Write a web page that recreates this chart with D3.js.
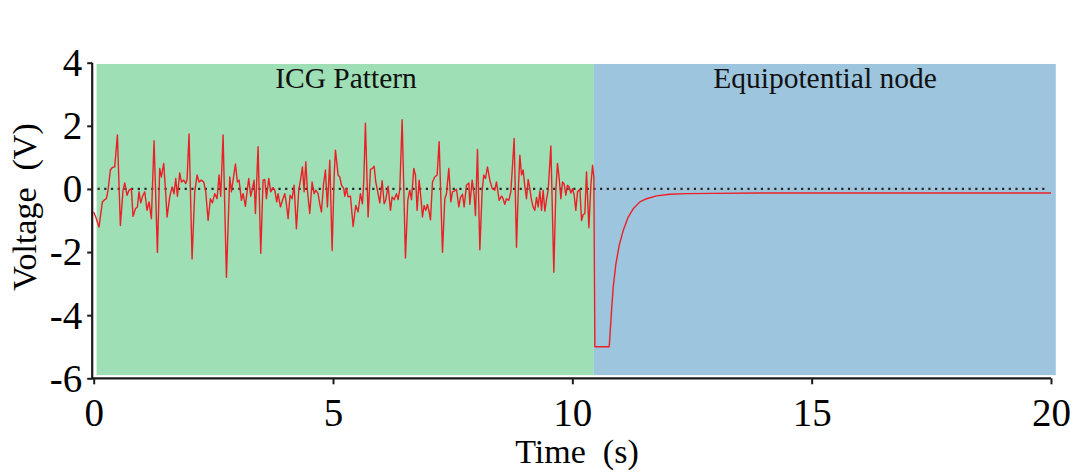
<!DOCTYPE html>
<html>
<head>
<meta charset="utf-8">
<script src="https://cdn.jsdelivr.net/npm/d3@7"></script>
<style>
  html, body { margin: 0; padding: 0; background: #ffffff; }
  svg { display: block; }
</style>
</head>
<body>
<svg id="chart" width="1076" height="476"></svg>
<script>
// ---- data ----
const time = [
  0, 0.042, 0.111, 0.181, 0.230, 0.265, 0.300, 0.348, 0.390, 0.439, 0.495, 0.557, 0.613, 0.648, 0.697, 0.738, 0.787, 0.822, 0.871, 0.913,
  0.947, 0.982, 1.017, 1.066, 1.115, 1.156, 1.205, 1.261, 1.331, 1.379, 1.414, 1.463, 1.505, 1.533, 1.588, 1.637, 1.679, 1.714, 1.749, 1.797,
  1.832, 1.881, 1.923, 1.951, 1.992, 2.055, 2.111, 2.159, 2.201, 2.250, 2.299, 2.341, 2.390, 2.438, 2.480, 2.529, 2.577, 2.619,
  2.654, 2.703, 2.773, 2.842, 2.877, 2.912, 2.961, 3.002, 3.037, 3.086, 3.121, 3.170, 3.204, 3.239, 3.281, 3.309, 3.351, 3.379, 3.434, 3.490,
  3.539, 3.574, 3.608, 3.657, 3.699, 3.748, 3.783, 3.824, 3.852, 3.901, 3.943, 3.992, 4.026, 4.061, 4.103, 4.145, 4.187, 4.235, 4.284, 4.326,
  4.361, 4.396, 4.431, 4.465, 4.514, 4.563, 4.605, 4.639, 4.688, 4.723, 4.758, 4.800, 4.841, 4.883, 4.932, 4.981, 5.023, 5.051, 5.106, 5.141,
  5.176, 5.225,
  5.246, 5.280, 5.315, 5.364, 5.420, 5.475, 5.524, 5.573, 5.615, 5.643, 5.677, 5.733, 5.782, 5.824, 5.859, 5.893, 5.928, 5.977, 6.026, 6.068,
  6.102, 6.151, 6.200, 6.235, 6.277, 6.325, 6.360, 6.395, 6.444, 6.513, 6.562, 6.604, 6.639, 6.688, 6.722, 6.757, 6.799, 6.834, 6.869, 6.903,
  6.938, 6.973, 7.008, 7.036, 7.078, 7.126, 7.175, 7.217, 7.287, 7.335, 7.370, 7.419, 7.461, 7.495, 7.544, 7.579, 7.628, 7.663, 7.705, 7.739,
  7.788, 7.837,
  7.858, 7.907, 7.949, 7.976, 8.018, 8.067, 8.116, 8.150, 8.185, 8.227, 8.276, 8.325, 8.380, 8.415, 8.471, 8.520, 8.554, 8.589, 8.624, 8.673,
  8.715, 8.750, 8.784, 8.833, 8.868, 8.903, 8.938, 8.972, 9.007, 9.042, 9.077, 9.112, 9.147, 9.181, 9.216, 9.251, 9.286, 9.321, 9.356, 9.390,
  9.425, 9.460, 9.495, 9.551, 9.613, 9.655, 9.690, 9.725, 9.760, 9.795, 9.829, 9.864, 9.899, 9.934, 9.969, 10.004, 10.038, 10.073, 10.108, 10.157,
  10.192, 10.226, 10.261, 10.296, 10.345, 10.387, 10.422, 10.449,
  10.470, 10.770, 10.819, 10.853, 10.909, 10.979, 11.062, 11.167, 11.271, 11.411, 11.550, 11.759, 12.038, 12.386, 12.943, 13.918, 20.0
];
const voltage = [
  -0.73, -0.89, -1.21, -0.41, -0.34, -0.31, -0.04, 0.60, 0.68, 0.70, 1.71, -1.16, -0.04, 0.19, -0.20, -0.04, 0.01, -0.87, -0.63, -0.57,
  -0.09, -0.44, -0.25, -0.09, -0.68, -0.41, -0.94, 1.53, -2.01, 0.65, 0.38, 0.81, -0.15, -0.89, -0.25, 0.06, -0.15, 0.33, -0.23, 0.51,
  0.22, 0.28, 0.17, 0.30, 1.74, -2.22, -0.09, 0.44, 0.22, 0.28, 0.22, -0.09, -1.00, -0.31, -0.44, -0.15, -0.31, 0.44,
  -0.23, 1.71, -2.80, 0.38, -0.09, 0.28, 0.79, 0.22, 0.28, -0.36, -0.15, -0.55, -0.09, 0.33, -0.23, -0.04, 0.28, -0.78, 1.34, -2.04,
  0.28, 0.30, -0.31, 0.33, -0.09, 0.04, -0.04, -0.41, -0.15, -0.57, -0.36, -0.15, -0.47, -0.94, -0.20, -0.31, 0.12, -1.26, -0.04, 0.33,
  0.70, -0.09, 0.86, -0.04, -0.78, 0.22, -0.15, -0.04, -0.15, -0.47, -0.73, 0.12, 0.60, -0.57, 0.91, -1.95, 0.38, 1.23, 0.44, 0.38,
  0.12, 0.01,
  -0.23, 0.01, -0.25, -0.23, -1.19, -0.52, -0.73, -0.15, -0.47, 0.28, 2.08, -0.89, 0.62, 0.65, 0.72, 0.22, -0.04, -0.44, 0.26, -0.47,
  -0.34, 0.09, -0.68, -0.25, -0.34, -0.15, -0.34, -0.01, 2.19, -2.19, -0.36, -0.04, -0.34, 0.65, 0.44, -0.68, 0.28, -0.25, -0.89, -0.52,
  -0.68, -0.49, -0.73, -0.98, 0.22, 0.38, 0.44, 1.50, -2.01, -0.31, -0.15, 0.65, -0.41, -0.09, -0.06, -0.01, -0.57, -0.27, -0.17, -0.57,
  0.12, 0.19,
  -0.49, 0.28, -0.20, -0.84, 1.25, -1.93, -0.04, 0.44, 0.33, 0.70, 0.28, 0.01, -0.04, 0.22, -0.36, -0.23, -0.31, -0.49, -0.31, -0.36,
  -0.09, 0.75, 1.60, -1.85, -0.15, 1.07, 0.44, 0.60, 0.09, -0.31, 0.30, 0.01, -0.36, -0.57, -0.68, -0.27, -0.57, -0.06, -0.68, -0.04,
  -0.70, -0.34, -0.04, 1.36, -2.64, -0.04, 0.81, 0.33, -0.31, 0.22, 0.15, -0.20, 0.12, 0.06, -0.13, 0.01, -0.20, -0.68, -0.09, -0.01,
  -1.00, -0.81, -0.78, 0.54, -1.23, 0.12, 0.75, 0.38,
  -5.0, -5.0, -3.86, -3.12, -2.38, -1.79, -1.32, -0.89, -0.63, -0.41, -0.31, -0.22, -0.17, -0.15, -0.14, -0.13, -0.13
];
const xTicks = [0, 5, 10, 15, 20];
const yTicks = [4, 2, 0, -2, -4, -6];
const regionLabels = ["ICG Pattern", "Equipotential node"];
const regionStart = [0.06, 10.45];
const regionEnd = [10.45, 20.1];
const regionTop = 3.96;
const regionBottom = -5.9;
const regionColors = ["#9edfb5", "#9ec5de"];
const xLabel = "Time  (s)";
const yLabel = "Voltage  (V)";

// ---- chart ----
const svg = d3.select("#chart");
const serif = "'Liberation Serif', 'Times New Roman', serif";
const x = d3.scaleLinear().domain([0, 20]).range([93.7, 1051]);
const y = d3.scaleLinear().domain([-6, 4]).range([378.3, 62.7]);

// background regions
svg.append("g").selectAll("rect").data(regionLabels).join("rect")
  .attr("x", (d, i) => x(regionStart[i]))
  .attr("y", y(regionTop))
  .attr("width", (d, i) => x(regionEnd[i]) - x(regionStart[i]))
  .attr("height", y(regionBottom) - y(regionTop))
  .attr("fill", (d, i) => regionColors[i]);

svg.append("g").selectAll("text").data(regionLabels).join("text")
  .attr("x", (d, i) => i === 0 ? 346 : 825)
  .attr("y", 88)
  .attr("text-anchor", "middle")
  .attr("font-family", serif)
  .attr("font-size", 29.5)
  .attr("fill", "#111")
  .text(d => d);

// zero reference dotted line
svg.append("line")
  .attr("x1", x(0.08)).attr("x2", x(19.95))
  .attr("y1", y(0)).attr("y2", y(0))
  .attr("stroke", "#2a2a2a")
  .attr("stroke-width", 2.2)
  .attr("stroke-linecap", "butt")
  .attr("stroke-dasharray", "2.2,4.5");

// signal
const line = d3.line().x((d, i) => x(time[i])).y(d => y(d));
svg.append("path")
  .datum(voltage)
  .attr("d", line)
  .attr("fill", "none")
  .attr("stroke", "#ec1f26")
  .attr("stroke-width", 1.4)
  .attr("stroke-linejoin", "round");

// axes
const xAxis = d3.axisBottom(x).tickValues(xTicks).tickSize(6).tickPadding(14).tickFormat(d => String(d));
const gx = svg.append("g").attr("transform", `translate(0,${y(-6)})`).call(xAxis);
gx.select(".domain").attr("stroke", "#1a1a1a").attr("stroke-width", 2.2)
  .attr("d", `M${x(0) - 1.5},0H${x(20)}`);
gx.selectAll(".tick line").attr("stroke", "#1a1a1a").attr("stroke-width", 2);
gx.selectAll(".tick text")
  .attr("font-family", serif).attr("font-size", 39).attr("fill", "#000")
  .attr("dy", "0.72em");

const yAxis = d3.axisLeft(y).tickValues(yTicks).tickSize(5).tickPadding(5).tickFormat(d => String(d));
const gy = svg.append("g").attr("transform", `translate(${x(0) - 1.5},0)`).call(yAxis);
gy.select(".domain").attr("stroke", "#1a1a1a").attr("stroke-width", 2.2)
  .attr("d", `M0,${y(4)}V${y(-6) + 1}`);
gy.selectAll(".tick line").attr("stroke", "#1a1a1a").attr("stroke-width", 2);
gy.selectAll(".tick text")
  .attr("font-family", serif).attr("font-size", 39).attr("fill", "#000")
  .attr("dy", "0.33em");

// axis titles
svg.append("text")
  .attr("x", 577).attr("y", 463)
  .attr("text-anchor", "middle")
  .attr("font-family", serif).attr("font-size", 34).attr("fill", "#000")
  .style("white-space", "pre")
  .attr("xml:space", "preserve")
  .text(xLabel);

svg.append("text")
  .attr("transform", "translate(36,207) rotate(-90)")
  .attr("text-anchor", "middle")
  .attr("font-family", serif).attr("font-size", 34).attr("fill", "#000")
  .style("white-space", "pre")
  .attr("xml:space", "preserve")
  .text(yLabel);
</script>
</body>
</html>
